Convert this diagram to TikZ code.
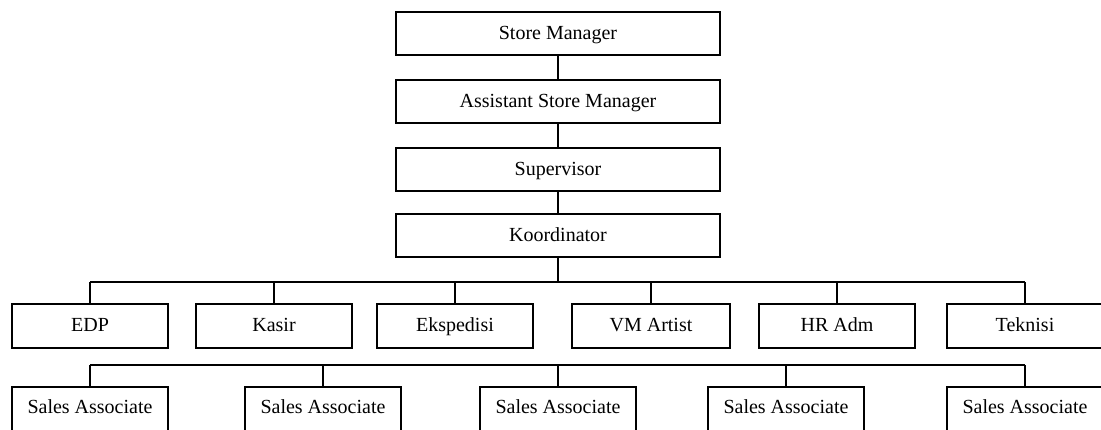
\documentclass[tikz,border=0pt]{standalone}
\usepackage{fontspec}
\setmainfont{Liberation Serif}
\begin{document}
\begin{tikzpicture}[x=1pt,y=-1pt,
  box/.style={draw, line width=1.1pt, inner sep=0pt, outer sep=0pt,
    anchor=north west, font=\fontsize{20}{24}\selectfont, text height=27.5pt},
  topbox/.style={box, minimum width=324pt, text depth=15.5pt},
  midbox/.style={box, minimum width=156pt, text depth=16.5pt},
  lowbox/.style={box, minimum width=156pt, text height=26.5pt, text depth=24pt},
  link/.style={line width=1.1pt}
]
\useasboundingbox (0,0) rectangle (1101,429);
\clip (0,0) rectangle (1101,429);

% management chain
\node[topbox] (sm)   at (396,12)  {Store Manager};
\node[topbox] (asm)  at (396,80)  {Assistant Store Manager};
\node[topbox] (sup)  at (396,148) {Supervisor};
\node[topbox] (koor) at (396,214) {Koordinator};

\draw[link] (sm.south) -- (asm.north);
\draw[link] (asm.south) -- (sup.north);
\draw[link] (sup.south) -- (koor.north);

% departments
\node[midbox] (edp) at (12,304)  {EDP};
\node[midbox] (kas) at (196,304) {Kasir};
\node[midbox] (eks) at (377,304) {Ekspedisi};
\node[midbox, minimum width=158pt] (vma) at (572,304) {VM Artist};
\node[midbox] (hra) at (759,304) {HR Adm};
\node[midbox] (tek) at (947,304) {Teknisi};

\coordinate (busA) at (558,282);
\draw[link] (koor.south) -- (busA);
\draw[link] (edp.north |- busA) -- (tek.north |- busA);
\foreach \n in {edp,kas,eks,vma,hra,tek}
  \draw[link] (\n.north) -- (\n.north |- busA);

% sales floor
\node[lowbox] (sa1) at (12,387)  {Sales Associate};
\node[lowbox] (sa2) at (245,387) {Sales Associate};
\node[lowbox] (sa3) at (480,387) {Sales Associate};
\node[lowbox] (sa4) at (708,387) {Sales Associate};
\node[lowbox] (sa5) at (947,387) {Sales Associate};

\coordinate (busB) at (558,365);
\draw[link] (sa1.north |- busB) -- (sa5.north |- busB);
\foreach \n in {sa1,sa2,sa3,sa4,sa5}
  \draw[link] (\n.north) -- (\n.north |- busB);
\end{tikzpicture}
\end{document}
